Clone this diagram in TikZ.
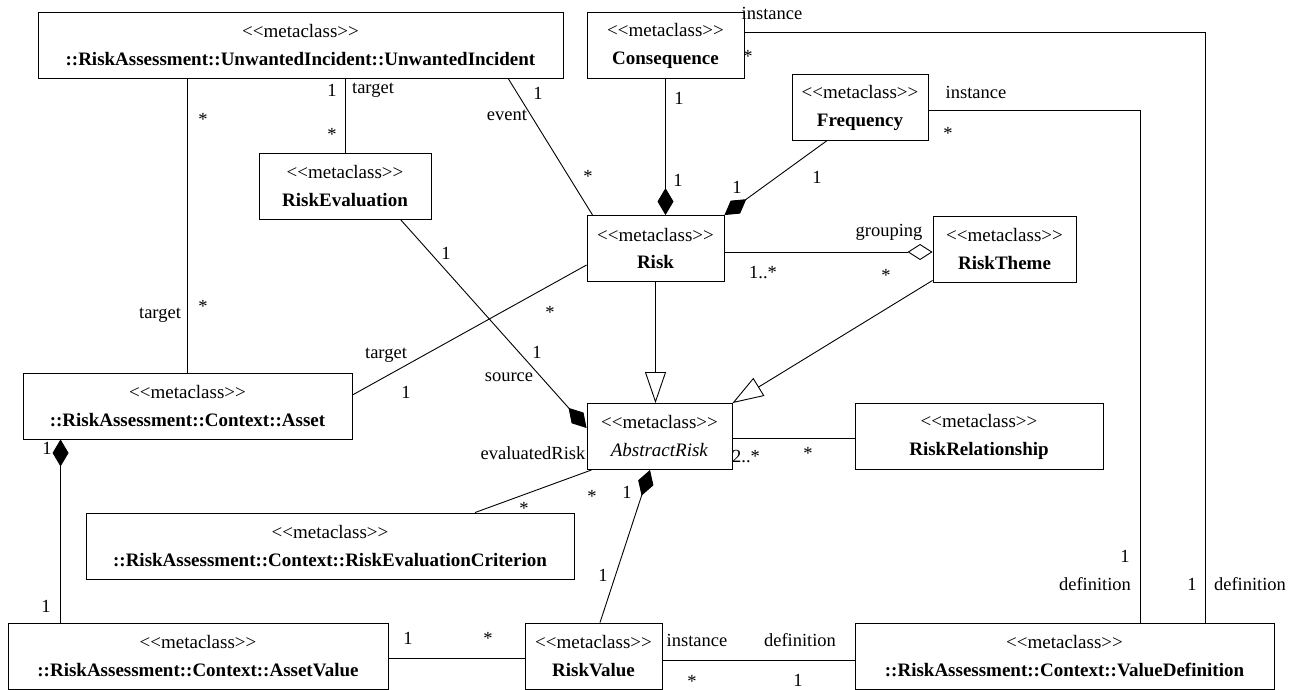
\documentclass[tikz,border=0pt]{standalone}
\usepackage{fontspec}
\setmainfont{Liberation Serif}
\usetikzlibrary{arrows.meta,calc}
\newcommand{\meta}{<{}<metaclass>{}>}

\begin{document}
\begin{tikzpicture}[x=1pt, y=-1pt,
  metabox/.style={draw, line width=0.9pt, align=center, inner sep=0pt, minimum height=66pt, font=\fontsize{19pt}{28pt}\selectfont},
  mult/.style={inner sep=0pt, font=\fontsize{18.5pt}{20pt}\selectfont},
  assoc/.style={line width=0.9pt},
  comp/.style={assoc, -{Diamond[length=27pt, width=16pt]}},
  aggr/.style={assoc, -{Diamond[open, length=25pt, width=16pt]}},
  gen/.style={assoc, -{Triangle[open, length=31pt, width=21pt]}}
]
\useasboundingbox (0,0) rectangle (1301,690);

\node[metabox, minimum width=525pt] (incident) at (300.5,45.5) {\meta\\\textbf{::RiskAssessment::UnwantedIncident::UnwantedIncident}};
\node[metabox, minimum width=157pt] (cons) at (665.5,45.5) {\meta\\\textbf{Consequence}};
\node[metabox, minimum width=136pt] (freq) at (860,107.5) {\meta\\\textbf{Frequency}};
\node[metabox, minimum width=172pt] (reval) at (345,186) {\meta\\\textbf{RiskEvaluation}};
\node[metabox, minimum width=137pt] (risk) at (655.5,248.5) {\meta\\\textbf{Risk}};
\node[metabox, minimum width=143pt] (theme) at (1004.5,249) {\meta\\\textbf{RiskTheme}};
\node[metabox, minimum width=329pt] (asset) at (187.5,406) {\meta\\\textbf{::RiskAssessment::Context::Asset}};
\node[metabox, minimum width=145pt] (absr) at (659.5,436.5) {\meta\\\textit{AbstractRisk}};
\node[metabox, minimum width=248pt] (rrel) at (979,436.5) {\meta\\\textbf{RiskRelationship}};
\node[metabox, minimum width=488pt] (crit) at (330,546) {\meta\\\textbf{::RiskAssessment::Context::RiskEvaluationCriterion}};
\node[metabox, minimum width=380pt] (aval) at (198,656) {\meta\\\textbf{::RiskAssessment::Context::AssetValue}};
\node[metabox, minimum width=137pt] (rval) at (593.5,656) {\meta\\\textbf{RiskValue}};
\node[metabox, minimum width=419pt] (vdef) at (1064.5,656) {\meta\\\textbf{::RiskAssessment::Context::ValueDefinition}};

\draw[assoc] (incident.south -| asset.north) -- (asset.north);
\draw[assoc] (incident.south -| reval.north) -- (reval.north);
\draw[assoc] ($(incident.south east)+(-55,0)$) -- ($(risk.north west)+(6,0)$);
\draw[comp] (cons.south) -- (cons.south |- risk.north);
\draw[comp] ($(freq.south west)+(35,0)$) -- (risk.north east);
\draw[assoc] ($(cons.east)+(0,-13.5)$) -| ($(vdef.north east)+(-69,0)$);
\draw[assoc] ($(freq.east)+(0,2.5)$) -| ($(vdef.north)+(75.5,0)$);
\draw[aggr] ($(risk.east)+(0,3.5)$) -- ($(theme.west)+(0,3)$);
\draw[gen] (risk.south) -- (risk.south |- absr.north);
\draw[gen] ($(theme.south west)+(0,-2)$) -- (absr.north east);
\draw[assoc] ($(risk.west)+(0,16.5)$) -- ($(asset.east)+(0,-11)$);
\draw[comp] ($(reval.south east)+(-31,0)$) -- ($(absr.west)+(0,-8.5)$);
\draw[assoc] ($(absr.east)+(0,1.5)$) -- ($(rrel.west)+(0,1.5)$);
\draw[assoc] ($(absr.south west)+(5,0)$) -- ($(crit.north)+(145,0)$);
\draw[comp] ($(rval.north)+(6.5,0)$) -- ($(absr.south)+(-9.5,0)$);
\draw[comp] ($(aval.north west)+(53,0)$) -- ($(asset.south west)+(38,0)$);
\draw[assoc] ($(aval.east)+(0,2)$) -- ($(rval.west)+(0,2)$);
\draw[assoc] ($(rval.east)+(0,4)$) -- ($(vdef.west)+(0,4)$);

\node[mult] (incA) at (203,119) {*};
\node[mult] (incAT) at (160,315) {target};
\node[mult] (assetI) at (203,306) {*};
\node[mult] (incE) at (332,90) {1};
\node[mult] (incET) at (373,90) {target};
\node[mult] (revalI) at (332,134) {*};
\node[mult] (incR) at (538,93) {1};
\node[mult] (incRE) at (507,115) {event};
\node[mult] (riskI) at (588,176) {*};
\node[mult] (consR) at (679,98) {1};
\node[mult] (riskC) at (678,180) {1};
\node[mult] (riskF) at (737,187) {1};
\node[mult] (freqR) at (817,177) {1};
\node[mult] (consInst) at (772,13) {instance};
\node[mult] (consV) at (748,56) {*};
\node[mult] (freqInst) at (976,92) {instance};
\node[mult] (freqV) at (948,133) {*};
\node[mult] (themeG) at (889,232) {grouping};
\node[mult] (riskT) at (763,273) {1..*};
\node[mult] (themeR) at (886,275) {*};
\node[mult] (riskA) at (550,312) {*};
\node[mult] (assetT) at (386,355) {target};
\node[mult] (assetR) at (406,392) {1};
\node[mult] (revalA) at (446,253) {1};
\node[mult] (absrE) at (537,352) {1};
\node[mult] (absrS) at (509,377) {source};
\node[mult] (absrER) at (533,453) {evaluatedRisk};
\node[mult] (absrRel) at (746,457) {2..*};
\node[mult] (relA) at (808,453) {*};
\node[mult] (absrC) at (592,496) {*};
\node[mult] (critA) at (524,508) {*};
\node[mult] (absrV) at (627,492) {1};
\node[mult] (rvalA) at (603,575) {1};
\node[mult] (assetV) at (47,448) {1};
\node[mult] (avalA) at (46,606) {1};
\node[mult] (avalR) at (408,638) {1};
\node[mult] (rvalAV) at (488,638) {*};
\node[mult] (rvalInst) at (697,640) {instance};
\node[mult] (vdefDef) at (800,640) {definition};
\node[mult] (rvalD) at (692,681) {*};
\node[mult] (vdefR) at (798,680) {1};
\node[mult] (vdefF) at (1125,556) {1};
\node[mult] (vdefFD) at (1095,584) {definition};
\node[mult] (vdefC) at (1192,584) {1};
\node[mult] (vdefCD) at (1250,584) {definition};
\end{tikzpicture}
\end{document}
